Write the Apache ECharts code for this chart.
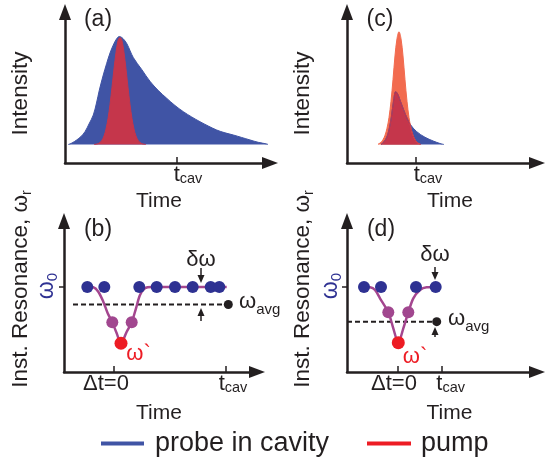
<!DOCTYPE html>
<html>
<head>
<meta charset="utf-8">
<script src="https://cdn.jsdelivr.net/npm/echarts@6.0.0/dist/echarts.min.js"></script>
<style>
html,body{margin:0;padding:0;background:#ffffff;}
#chart{width:545px;height:458px;}
</style>
</head>
<body>
<div id="chart"></div>
<script>
// ================= DATA =================
// (a) long cavity lifetime: [time, intensity]
const probeA = [[0.147,0],[0.313,0.014],[0.522,0.042],[0.714,0.074],[0.893,0.119],[1.071,0.190],[1.263,0.273],[1.406,0.384],[1.531,0.502],[1.696,0.634],[1.862,0.752],[2.009,0.847],[2.156,0.921],[2.299,0.977],[2.424,1.0],[2.589,0.981],[2.768,0.931],[3.049,0.805],[3.424,0.695],[3.795,0.585],[4.165,0.5],[4.540,0.428],[4.911,0.361],[5.283,0.304],[5.656,0.255],[6.027,0.211],[6.397,0.171],[6.772,0.134],[7.143,0.108],[7.513,0.088],[7.888,0.065],[8.259,0.042],[8.629,0.020],[9.004,0.005],[9.063,0]];
const pumpA = [[1.294,0.001],[1.429,0.005],[1.562,0.019],[1.652,0.040],[1.741,0.079],[1.830,0.143],[1.920,0.240],[2.009,0.371],[2.098,0.530],[2.187,0.700],[2.277,0.853],[2.366,0.961],[2.455,0.99],[2.544,0.961],[2.634,0.853],[2.723,0.700],[2.812,0.530],[2.902,0.371],[2.991,0.240],[3.080,0.143],[3.169,0.079],[3.259,0.040],[3.348,0.019],[3.482,0.005],[3.616,0.001]];
// (c) short cavity lifetime
const probeC = [[1.518,0],[1.629,0.02],[1.719,0.045],[1.808,0.085],[1.888,0.15],[1.978,0.25],[2.076,0.4],[2.174,0.489],[2.254,0.472],[2.366,0.412],[2.589,0.289],[2.813,0.190],[3.112,0.119],[3.482,0.067],[3.853,0.032],[4.152,0.009],[4.330,0]];
const pumpC = [[1.384,0.003],[1.518,0.02],[1.607,0.045],[1.696,0.085],[1.785,0.15],[1.875,0.25],[1.964,0.40],[2.053,0.60],[2.142,0.82],[2.232,0.98],[2.321,1.044],[2.411,0.98],[2.500,0.82],[2.589,0.60],[2.679,0.40],[2.768,0.25],[2.857,0.15],[2.946,0.085],[3.036,0.045],[3.125,0.02],[3.259,0.003]];
const overlapC = [[1.518,0],[1.629,0.02],[1.719,0.045],[1.808,0.085],[1.888,0.15],[1.978,0.25],[2.076,0.4],[2.174,0.489],[2.254,0.472],[2.366,0.412],[2.589,0.289],[2.826,0.18],[2.857,0.15],[2.946,0.085],[3.036,0.045],[3.125,0.02],[3.259,0.003],[3.304,0]];

// x tick positions and labels
const tickTimesA = [5.0];     const tickLabelsA = ['t_cav'];
const tickTimesC = [3.08];    const tickLabelsC = ['t_cav'];
const tickTimesB = [0, 5.0];  const tickLabelsB = ['Δt=0', 't_cav'];
const tickTimesD = [0, 1.95]; const tickLabelsD = ['Δt=0', 't_cav'];
const omega0 = 1;

// (b) instantaneous resonance, long cavity: [time, ω/ω0]
const curveB = [[-1.192,1],[-0.924,0.996],[-0.701,0.945],[-0.478,0.827],[-0.281,0.691],[-0.076,0.585],[0.121,0.455],[0.3125,0.338],[0.567,0.474],[0.790,0.585],[0.982,0.749],[1.161,0.906],[1.384,0.985],[1.683,1],[2.6,1],[3.5,1],[4.3,1],[5.031,1]];
const blueDotsB = [[-1.192,1],[-0.433,1],[1.129,1],[1.906,1],[2.723,1],[3.513,1],[4.317,1],[4.701,1]];
const purpleDotsB = [[-0.076,0.585],[0.790,0.585]];
const redDotB = [[0.3125,0.338]];
const avgLineB = [[-1.83,0.794],[5.103,0.794]];
const avgDotB = [[5.103,0.794]];
const arrowsB = [[3.884,1.224,1.094],[3.884,0.60,0.706]];   // [time, from, to]

// (d) instantaneous resonance, short cavity
const curveD = [[-1.518,1],[-1.25,0.996],[-1.027,0.965],[-0.804,0.867],[-0.433,0.702],[-0.210,0.514],[0.013,0.345],[0.237,0.514],[0.460,0.702],[0.683,0.867],[0.982,0.965],[1.281,0.996],[1.683,1]];
const blueDotsD = [[-1.518,1],[-0.759,1],[0.804,1],[1.683,1]];
const purpleDotsD = [[-0.433,0.702],[0.460,0.702]];
const redDotD = [[0.013,0.345]];
const avgLineD = [[-2.277,0.592],[1.728,0.592]];
const avgDotD = [[1.728,0.592]];
const arrowsD = [[1.652,1.235,1.129],[1.652,0.412,0.482]];

// ================= STYLE / LAYOUT =================
const FONT = '"Liberation Sans", Arial, Helvetica, sans-serif';
const INK = '#231f20';
const BLUE_FILL = '#4054a5';
const CRIMSON = '#c5364b';
const ORANGE = '#f26b4f';
const DOT_BLUE = '#2e3192';
const DOT_PURPLE = '#a1478f';
const DOT_RED = '#ed1c24';
const LINE_PURPLE = '#a4468f';

const T_PX = 22.4, I_PX = 108, W_PX = 85;
const grids = [
  {left:65,  top:12,  width:205, height:151},  // a
  {left:347, top:12,  width:190, height:151},  // c
  {left:64,  top:221, width:193, height:151},  // b
  {left:347, top:221, width:190, height:151}   // d
];
const xOrigin = [65, 347, 114, 398];       // pixel of time 0

function richLabel(lbl) {
  if (lbl === 't_cav') return '{sp| }{t|t}{s|cav}';
  return '{n|' + lbl + '}{sr| }';
}
function makeX(i, ticks, labels, sp, spR) {
  const g = grids[i];
  return {
    type:'value', gridIndex:i,
    min:(g.left - xOrigin[i]) / T_PX, max:(g.left + g.width - xOrigin[i]) / T_PX,
    axisLine:{show:true, onZero:false, symbol:['none','triangle'], symbolSize:[12,16],
      lineStyle:{color:INK, width:2.5}},
    axisTick:{show:true, inside:true, length:6, customValues:ticks, lineStyle:{color:INK, width:1.5}},
    axisLabel:{show:true, customValues:ticks, margin:1, color:INK,
      formatter:function(v){ const k = ticks.findIndex(function(t){return Math.abs(t-v)<1e-6;}); return richLabel(labels[k]); },
      rich:{
        t:{fontSize:22, fontFamily:FONT, color:INK, lineHeight:22},
        s:{fontSize:14.5, fontFamily:FONT, color:INK, lineHeight:14, verticalAlign:'bottom'},
        n:{fontSize:22, fontFamily:FONT, color:INK, lineHeight:22},
        sp:{width:sp, fontSize:10},
        sr:{width:spR, fontSize:10}
      }},
    splitLine:{show:false}
  };
}
function makeY(i, minV, maxV, ticks) {
  return {
    type:'value', gridIndex:i, min:minV, max:maxV,
    axisLine:{show:true, onZero:false, symbol:['none','triangle'], symbolSize:[12,16],
      lineStyle:{color:INK, width:2.5}},
    axisTick:{show:!!ticks, inside:false, length:5, customValues:ticks || [], lineStyle:{color:INK, width:1.5}},
    axisLabel:{show:false},
    splitLine:{show:false}
  };
}
const iMin = -(163 - 144.5) / I_PX, iMax = (144.5 - 12) / I_PX;
const wMax = 151 / W_PX;

function areaSeries(name, data, gi, color) {
  return {type:'line', name:name, xAxisIndex:gi, yAxisIndex:gi, data:data,
    smooth:0.35, symbol:'none', showSymbol:false, silent:true,
    lineStyle:{width:1, type:'solid', color:color}, itemStyle:{color:color},
    areaStyle:{color:color, opacity:1, origin:0}};
}
function dots(data, gi, color, size) {
  return {type:'scatter', xAxisIndex:gi, yAxisIndex:gi, data:data, symbol:'circle',
    symbolSize:size, silent:true, itemStyle:{color:color, opacity:1}, z:6};
}
function curve(data, gi) {
  return {type:'line', xAxisIndex:gi, yAxisIndex:gi, data:data, smooth:0.3,
    symbol:'none', showSymbol:false, silent:true, lineStyle:{color:LINE_PURPLE, width:2.5}, z:4};
}
function avgLine(data, gi, arrows) {
  return {type:'line', xAxisIndex:gi, yAxisIndex:gi, data:data, symbol:'none', showSymbol:false, silent:true,
    lineStyle:{color:INK, width:2, type:[5,3]}, z:3,
    markLine:{silent:true, symbol:['none','triangle'], symbolSize:[7,8], label:{show:false},
      lineStyle:{color:INK, width:1.5, type:'solid'}, emphasis:{disabled:true},
      data: arrows.map(function(a){ return [{coord:[a[0], a[1]]}, {coord:[a[0], a[2]]}]; })}};
}

function gtext(x, y, text, opt) {
  opt = opt || {};
  const st = {text:text, fontFamily:FONT, fontSize:opt.size || 22, fill:opt.color || INK,
    align:opt.align || 'center', textAlign:opt.align || 'center',
    verticalAlign:'middle', textVerticalAlign:'middle'};
  if (opt.rich) st.rich = opt.rich;
  return {type:'text', x:x, y:y, rotation:opt.rot || 0, silent:true, z:100, style:st};
}
function subRich(mainSize, subSize, color, mainLH, subLH) {
  return {
    m:{fontSize:mainSize, fontFamily:FONT, fill:color, lineHeight:mainLH},
    s:{fontSize:subSize, fontFamily:FONT, fill:color, lineHeight:subLH, verticalAlign:'bottom'}
  };
}
const R90 = Math.PI / 2;

const option = {
  animation:false,
  backgroundColor:'#ffffff',
  grid: grids.map(function(g){ return Object.assign({containLabel:false, outerBoundsMode:'none'}, g); }),
  xAxis:[
    makeX(0, tickTimesA, tickLabelsA, 22, 0),
    makeX(1, tickTimesC, tickLabelsC, 24, 0),
    makeX(2, tickTimesB, tickLabelsB, 14, 16),
    makeX(3, tickTimesD, tickLabelsD, 18, 8)
  ],
  yAxis:[
    makeY(0, iMin, iMax, null),
    makeY(1, iMin, iMax, null),
    makeY(2, 0, wMax, [omega0]),
    makeY(3, 0, wMax, [omega0])
  ],
  legend:[
    {left:101, top:430, padding:0, icon:'rect', itemWidth:43, itemHeight:4, selectedMode:false,
      textStyle:{fontSize:27, fontFamily:FONT, color:INK, padding:[0,0,0,6]},
      data:[{name:'probe in cavity', itemStyle:{color:BLUE_FILL}}]},
    {left:367, top:430, padding:0, icon:'rect', itemWidth:44, itemHeight:4, selectedMode:false,
      textStyle:{fontSize:27, fontFamily:FONT, color:INK, padding:[0,0,0,5]},
      data:[{name:'pump', itemStyle:{color:DOT_RED}}]}
  ],
  series:[
    areaSeries('probe in cavity', probeA, 0, BLUE_FILL),
    areaSeries('pump', pumpA, 0, CRIMSON),
    areaSeries('probe in cavity', probeC, 1, BLUE_FILL),
    areaSeries('pump', pumpC, 1, ORANGE),
    areaSeries('overlap', overlapC, 1, CRIMSON),
    avgLine(avgLineB, 2, arrowsB),
    curve(curveB, 2),
    dots(blueDotsB, 2, DOT_BLUE, 12),
    dots(purpleDotsB, 2, DOT_PURPLE, 12),
    dots(redDotB, 2, DOT_RED, 13),
    dots(avgDotB, 2, INK, 9),
    avgLine(avgLineD, 3, arrowsD),
    curve(curveD, 3),
    dots(blueDotsD, 3, DOT_BLUE, 12),
    dots(purpleDotsD, 3, DOT_PURPLE, 12),
    dots(redDotD, 3, DOT_RED, 13),
    dots(avgDotD, 3, INK, 9)
  ],
  graphic:[
    gtext(98, 20, '(a)', {size:23}),
    gtext(380, 20, '(c)', {size:23}),
    gtext(98, 230, '(b)', {size:23}),
    gtext(381, 230, '(d)', {size:23}),
    gtext(159, 201.5, 'Time', {size:21}),
    gtext(450, 201.5, 'Time', {size:21}),
    gtext(159, 413.5, 'Time', {size:21}),
    gtext(449.5, 413.5, 'Time', {size:21}),
    gtext(21, 93.5, 'Intensity', {size:22.5, rot:R90}),
    gtext(303, 93.5, 'Intensity', {size:22.5, rot:R90}),
    gtext(21, 289, '{m|Inst. Resonance, ω}{s|r}', {rot:R90, rich:subRich(22.5, 14, INK, 26, 14)}),
    gtext(303, 289, '{m|Inst. Resonance, ω}{s|r}', {rot:R90, rich:subRich(22.5, 14, INK, 26, 14)}),
    gtext(47, 286, '{m|ω}{s|0}', {rot:R90, color:DOT_BLUE, rich:subRich(23, 15, DOT_BLUE, 26, 14)}),
    gtext(331, 286, '{m|ω}{s|0}', {rot:R90, color:DOT_BLUE, rich:subRich(23, 15, DOT_BLUE, 26, 14)}),
    gtext(201, 260, 'δω', {size:22}),
    gtext(435, 255, 'δω', {size:22}),
    gtext(239, 302, '{m|ω}{s|avg}', {align:'left', rich:subRich(22, 15, INK, 30, 14)}),
    gtext(448, 319, '{m|ω}{s|avg}', {align:'left', rich:subRich(22, 15, INK, 30, 14)}),
    gtext(138.5, 354, 'ω`', {size:22, color:DOT_RED}),
    gtext(415, 357, 'ω`', {size:22, color:DOT_RED})
  ]
};
const chart = echarts.init(document.getElementById('chart'), null, {renderer:'canvas', width:545, height:458});
chart.setOption(option);
</script>
</body>
</html>
